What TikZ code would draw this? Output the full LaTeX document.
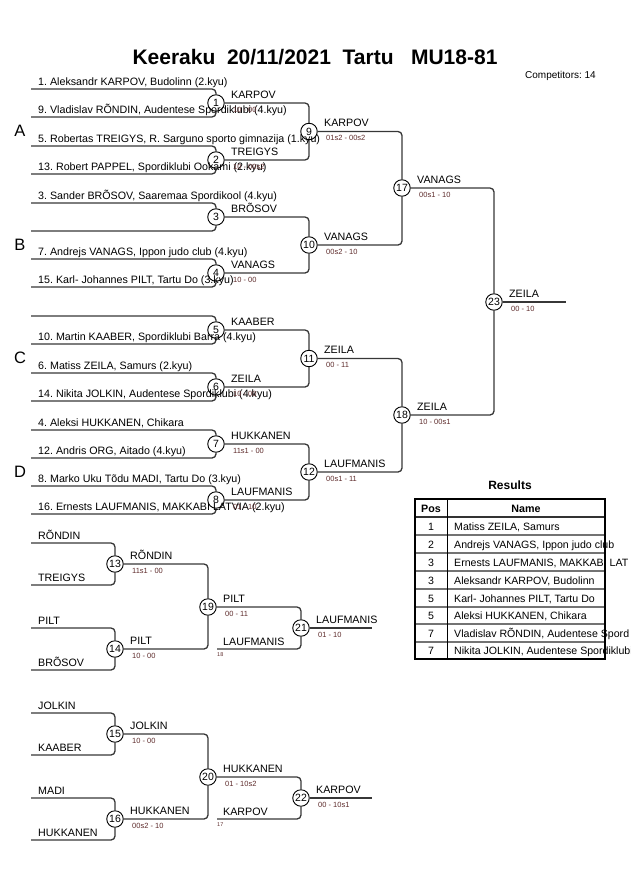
\documentclass[tikz,border=0pt]{standalone}
\usepackage{fontspec}
\setmainfont{Liberation Sans}
\definecolor{scorecol}{RGB}{95,45,45}
\definecolor{lncol}{RGB}{55,55,55}
\frenchspacing
\begin{document}
\begin{tikzpicture}[x=1pt,y=-1pt,
  ln/.style={draw=lncol, line width=1.3pt, rounded corners=4pt},
  mc/.style={circle, draw=black, fill=white, line width=0.9pt, inner sep=0pt, minimum size=16.5pt, font=\fontsize{10.5}{12}\selectfont},
  comp/.style={anchor=base west, inner sep=0pt, font=\fontsize{10.7}{12}\selectfont},
  win/.style={anchor=base west, inner sep=0pt, font=\fontsize{10.7}{12}\selectfont},
  sc/.style={anchor=base west, inner sep=0pt, font=\fontsize{7.5}{8}\selectfont, text=scorecol},
  tinysc/.style={anchor=base west, inner sep=0pt, font=\fontsize{5.5}{6}\selectfont, text=scorecol},
  grp/.style={inner sep=0pt, font=\fontsize{16.5}{18}\selectfont},
  tab/.style={inner sep=0pt, font=\fontsize{10.6}{12}\selectfont},
  tabhead/.style={inner sep=0pt, anchor=base, font=\bfseries\fontsize{10.7}{12}\selectfont},
]
\useasboundingbox (0,0) rectangle (630,891);
\clip (0,0) rectangle (630,891);

% ---------- title ----------
\node[anchor=base, inner sep=0pt, font=\bfseries\fontsize{21}{24}\selectfont] (title) at (315,64) {Keeraku~~20/11/2021~~Tartu~~~MU18-81};
\node[anchor=base west, inner sep=0pt, font=\fontsize{10}{12}\selectfont] (ncomp) at (525,78) {Competitors: 14};

% ---------- main bracket: match circles ----------
\node[mc] (m1) at (216,103) {1};
\node[mc] (m2) at (216,160) {2};
\node[mc] (m3) at (216,217) {3};
\node[mc] (m4) at (216,273) {4};
\node[mc] (m5) at (216,330) {5};
\node[mc] (m6) at (216,387) {6};
\node[mc] (m7) at (216,444) {7};
\node[mc] (m8) at (216,500) {8};
\node[mc] (m9) at (309,131.5) {9};
\node[mc] (m10) at (309,245) {10};
\node[mc] (m11) at (309,358.5) {11};
\node[mc] (m12) at (309,472) {12};
\node[mc] (m17) at (402,188) {17};
\node[mc] (m18) at (402,415) {18};
\node[mc] (m23) at (494,302) {23};
\coordinate (fin1) at (566,302);

% entry points
\coordinate (s1a) at (31,89);  \coordinate (s1b) at (31,117);
\coordinate (s2a) at (31,146); \coordinate (s2b) at (31,174);
\coordinate (s3a) at (31,203); \coordinate (s3b) at (31,231);
\coordinate (s4a) at (31,259); \coordinate (s4b) at (31,287);
\coordinate (s5a) at (31,316); \coordinate (s5b) at (31,344);
\coordinate (s6a) at (31,373); \coordinate (s6b) at (31,401);
\coordinate (s7a) at (31,430); \coordinate (s7b) at (31,458);
\coordinate (s8a) at (31,486); \coordinate (s8b) at (31,514);

\foreach \k in {1,...,8}{
  \draw[ln] (s\k a) -| (m\k);
  \draw[ln] (s\k b) -| (m\k);
}
\draw[ln] (m1) -| (m9);  \draw[ln] (m2) -| (m9);
\draw[ln] (m3) -| (m10); \draw[ln] (m4) -| (m10);
\draw[ln] (m5) -| (m11); \draw[ln] (m6) -| (m11);
\draw[ln] (m7) -| (m12); \draw[ln] (m8) -| (m12);
\draw[ln] (m9) -| (m17); \draw[ln] (m10) -| (m17);
\draw[ln] (m11) -| (m18); \draw[ln] (m12) -| (m18);
\draw[ln] (m17) -| (m23); \draw[ln] (m18) -| (m23);
\draw[ln] (m23) -- (fin1);

% group letters
\node[grp] (gA) at (20,131) {A};
\node[grp] (gB) at (20,245) {B};
\node[grp] (gC) at (20,358) {C};
\node[grp] (gD) at (20,472) {D};

% competitors
\node[comp] (c1) at (38,85) {1. Aleksandr KARPOV, Budolinn (2.kyu)};
\node[comp] (c9) at (38,113) {9. Vladislav RÕNDIN, Audentese Spordiklubi (4.kyu)};
\node[comp] (c5) at (38,142) {5. Robertas TREIGYS, R. Sarguno sporto gimnazija (1.kyu)};
\node[comp] (c13) at (38,170) {13. Robert PAPPEL, Spordiklubi Ookami (2.kyu)};
\node[comp] (c3) at (38,199) {3. Sander BRÕSOV, Saaremaa Spordikool (4.kyu)};
\node[comp] (c7) at (38,255) {7. Andrejs VANAGS, Ippon judo club (4.kyu)};
\node[comp] (c15) at (38,283) {15. Karl- Johannes PILT, Tartu Do (3.kyu)};
\node[comp] (c10) at (38,340) {10. Martin KAABER, Spordiklubi Barra (4.kyu)};
\node[comp] (c6) at (38,369) {6. Matiss ZEILA, Samurs (2.kyu)};
\node[comp] (c14) at (38,397) {14. Nikita JOLKIN, Audentese Spordiklubi (4.kyu)};
\node[comp] (c4) at (38,426) {4. Aleksi HUKKANEN, Chikara};
\node[comp] (c12) at (38,454) {12. Andris ORG, Aitado (4.kyu)};
\node[comp] (c8) at (38,482) {8. Marko Uku Tõdu MADI, Tartu Do (3.kyu)};
\node[comp] (c16) at (38,510) {16. Ernests LAUFMANIS, MAKKABI LATVIA (2.kyu)};

% winners and scores
\node[win] (w1) at (231,98) {KARPOV};     \node[sc] (r1) at (233,112) {10 - 00};
\node[win] (w2) at (231,155) {TREIGYS};   \node[sc] (r2) at (233,169) {10 - 00s2};
\node[win] (w3) at (231,212) {BRÕSOV};
\node[win] (w4) at (231,268) {VANAGS};    \node[sc] (r4) at (233,282) {10 - 00};
\node[win] (w5) at (231,325) {KAABER};
\node[win] (w6) at (231,382) {ZEILA};     \node[sc] (r6) at (233,396) {10 - 00};
\node[win] (w7) at (231,439) {HUKKANEN};  \node[sc] (r7) at (233,453) {11s1 - 00};
\node[win] (w8) at (231,495) {LAUFMANIS}; \node[sc] (r8) at (233,509) {01 - 10};
\node[win] (w9) at (324,126.5) {KARPOV};  \node[sc] (r9) at (326,140.5) {01s2 - 00s2};
\node[win] (w10) at (324,240) {VANAGS};   \node[sc] (r10) at (326,254) {00s2 - 10};
\node[win] (w11) at (324,353.5) {ZEILA};  \node[sc] (r11) at (326,367.5) {00 - 11};
\node[win] (w12) at (324,467) {LAUFMANIS};\node[sc] (r12) at (326,481) {00s1 - 11};
\node[win] (w17) at (417,183) {VANAGS};   \node[sc] (r17) at (419,197) {00s1 - 10};
\node[win] (w18) at (417,410) {ZEILA};    \node[sc] (r18) at (419,424) {10 - 00s1};
\node[win] (w23) at (509,297) {ZEILA};    \node[sc] (r23) at (511,311) {00 - 10};

% ---------- repechage 1 ----------
\node[mc] (m13) at (115,564) {13};
\node[mc] (m14) at (115,649) {14};
\node[mc] (m19) at (208,607) {19};
\node[mc] (m21) at (301,628) {21};
\coordinate (s13a) at (31,543); \coordinate (s13b) at (31,585);
\coordinate (s14a) at (31,628); \coordinate (s14b) at (31,670);
\coordinate (s21b) at (217,649);
\coordinate (fin2) at (372,628);
\draw[ln] (s13a) -| (m13); \draw[ln] (s13b) -| (m13);
\draw[ln] (s14a) -| (m14); \draw[ln] (s14b) -| (m14);
\draw[ln] (m13) -| (m19); \draw[ln] (m14) -| (m19);
\draw[ln] (m19) -| (m21); \draw[ln] (s21b) -| (m21);
\draw[ln] (m21) -- (fin2);
\node[comp] (e13a) at (38,539) {RÕNDIN};
\node[comp] (e13b) at (38,581) {TREIGYS};
\node[comp] (e14a) at (38,624) {PILT};
\node[comp] (e14b) at (38,666) {BRÕSOV};
\node[win] (w13) at (130,559) {RÕNDIN};   \node[sc] (r13) at (132,573) {11s1 - 00};
\node[win] (w14) at (130,644) {PILT};     \node[sc] (r14) at (132,658) {10 - 00};
\node[win] (w19) at (223,602) {PILT};     \node[sc] (r19) at (225,616) {00 - 11};
\node[win] (e21b) at (223,645) {LAUFMANIS}; \node[tinysc] (f21b) at (217,656) {18};
\node[win] (w21) at (316,623) {LAUFMANIS};\node[sc] (r21) at (318,637) {01 - 10};

% ---------- repechage 2 ----------
\node[mc] (m15) at (115,734) {15};
\node[mc] (m16) at (115,819) {16};
\node[mc] (m20) at (208,777) {20};
\node[mc] (m22) at (301,798) {22};
\coordinate (s15a) at (31,713); \coordinate (s15b) at (31,755);
\coordinate (s16a) at (31,798); \coordinate (s16b) at (31,840);
\coordinate (s22b) at (217,819);
\coordinate (fin3) at (372,798);
\draw[ln] (s15a) -| (m15); \draw[ln] (s15b) -| (m15);
\draw[ln] (s16a) -| (m16); \draw[ln] (s16b) -| (m16);
\draw[ln] (m15) -| (m20); \draw[ln] (m16) -| (m20);
\draw[ln] (m20) -| (m22); \draw[ln] (s22b) -| (m22);
\draw[ln] (m22) -- (fin3);
\node[comp] (e15a) at (38,709) {JOLKIN};
\node[comp] (e15b) at (38,751) {KAABER};
\node[comp] (e16a) at (38,794) {MADI};
\node[comp] (e16b) at (38,836) {HUKKANEN};
\node[win] (w15) at (130,729) {JOLKIN};   \node[sc] (r15) at (132,743) {10 - 00};
\node[win] (w16) at (130,814) {HUKKANEN}; \node[sc] (r16) at (132,828) {00s2 - 10};
\node[win] (w20) at (223,772) {HUKKANEN}; \node[sc] (r20) at (225,786) {01 - 10s2};
\node[win] (e22b) at (223,815) {KARPOV};  \node[tinysc] (f22b) at (217,826) {17};
\node[win] (w22) at (316,793) {KARPOV};   \node[sc] (r22) at (318,807) {00 - 10s1};

% ---------- results table ----------
\node[anchor=base, inner sep=0pt, font=\bfseries\fontsize{12}{14}\selectfont] (restitle) at (510,489) {Results};
\node[tabhead] (hpos) at (431,512) {Pos};
\node[tabhead] (hname) at (526,512) {Name};
\foreach \i/\p/\n/\y in {1/1/{Matiss ZEILA, Samurs}/530,
                         2/2/{Andrejs VANAGS, Ippon judo club}/548,
                         3/3/{Ernests LAUFMANIS, MAKKABI LAT}/566,
                         4/3/{Aleksandr KARPOV, Budolinn}/584,
                         5/5/{Karl- Johannes PILT, Tartu Do}/602,
                         6/5/{Aleksi HUKKANEN, Chikara}/619.5,
                         7/7/{Vladislav RÕNDIN, Audentese Spord}/637,
                         8/7/{Nikita JOLKIN, Audentese Spordiklubi}/654.5}{
  \node[tab, anchor=base] (pos\i) at (431,\y) {\p};
  \node[tab, anchor=base west] (nm\i) at (454,\y) {\n};
}
\foreach \y in {535,553,571,589,607,624,642}{
  \draw[black!55, line width=1.3pt] (415,\y) -- (605,\y);
}
\draw[black!80, line width=1.6pt] (415,517) -- (605,517);
\draw[black, line width=1pt] (447,499) -- (447,659);
\draw[black, line width=2pt] (415,499) rectangle (605,659);
\end{tikzpicture}
\end{document}
